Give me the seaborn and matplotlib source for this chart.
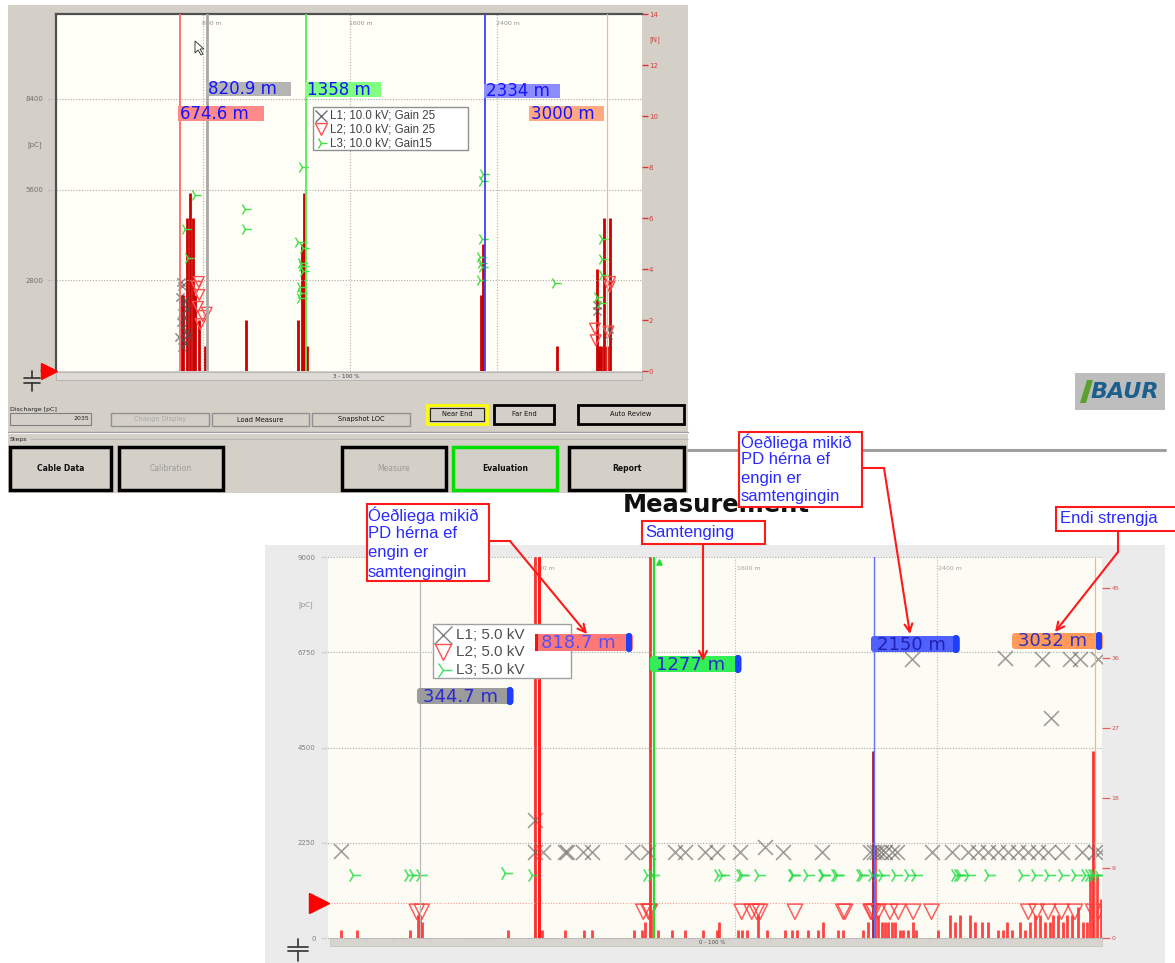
import matplotlib
matplotlib.use("Agg")
import matplotlib.pyplot as plt
import matplotlib.transforms as mtransforms
from matplotlib.patches import Rectangle, FancyBboxPatch, FancyArrowPatch, Polygon
from matplotlib.lines import Line2D
import seaborn as sns

# ---------------- DATA ----------------
# top screenshot (10 kV measurement)
top_bar_m = [684, 693, 715, 729, 744, 758, 777, 811, 1034, 1319, 1340, 1351, 1368,
             2311, 2325, 2725, 2946, 2955, 2966, 2982, 2997, 3015]
top_bar_n = [3, 3, 6, 7, 6, 3, 2, 1, 2, 2, 5, 7, 1, 3, 5, 1, 4, 1, 1, 6, 1, 6]

top_l1_m = [680, 688, 676, 692, 702, 684, 697, 712, 679, 693, 708, 672, 689, 704, 718, 686,
            2942, 2946, 3006, 3012]
top_l1_pc = [2750, 2620, 2300, 2080, 2200, 1800, 1650, 1900, 1500, 1350, 1200, 1050, 1000, 850,
             1100, 750, 2030, 1850, 1110, 1300]
top_l2_m = [777, 766, 780, 772, 820, 798, 786, 3015, 3012, 2933, 2937, 3006]
top_l2_pc = [2750, 2600, 2350, 1980, 1800, 1700, 1450, 2750, 2600, 1310, 950, 1210]
top_l3_m = [756, 702, 718, 1029, 1029, 1338, 1317, 1344, 1335, 1340, 1346, 1330, 1335, 1328,
            2325, 2320, 2320, 2307, 2315, 2320, 2307, 2716, 2970, 2970, 2970, 2942, 2958]
top_l3_pc = [5450, 4400, 3480, 5015, 4370, 6310, 3970, 3790, 3350, 3250, 3100, 2580, 2400, 2250,
             6080, 5880, 4090, 3520, 3320, 3200, 2800, 2720, 4080, 3470, 2950, 2290, 2100]
top_cursor_m = [674.6, 820.9, 1358, 2334, 3000]
top_cursor_lbl = ["674.6 m", "820.9 m", "1358 m", "2334 m", "3000 m"]
top_legend = ["L1; 10.0 kV; Gain 25", "L2; 10.0 kV; Gain 25", "L3; 10.0 kV; Gain15"]
top_yticks = [0, 2800, 5600, 8400]
top_rticks = [0, 2, 4, 6, 8, 10, 12, 14]
top_grid_m = [800, 1600, 2400]

# bottom screenshot (5 kV measurement)
bot_bar_m = [32, 94, 306, 337, 346, 353, 695, 803, 830, 922, 998, 1029, 1198, 1227, 1241, 1260,
             1274, 1291, 1349, 1400, 1472, 1526, 1536, 1612, 1625, 1645, 1691, 1724, 1797, 1824,
             1844, 1890, 1930, 1950, 2009, 2029, 2109, 2128, 2147, 2155, 2169, 2182, 2195, 2208,
             2221, 2235, 2254, 2268, 2288, 2307, 2320, 2407, 2453, 2473, 2493, 2533, 2553, 2579,
             2606, 2645, 2665, 2679, 2699, 2732, 2751, 2771, 2791, 2811, 2831, 2851, 2864, 2884,
             2904, 2917, 2937, 2963, 2983, 2997, 3010, 3023, 3037, 3056]
bot_bar_n = [1, 1, 1, 3, 3, 2, 1, 55, 1, 1, 1, 1, 1, 1, 2, 55,
             3, 1, 1, 1, 1, 1, 2, 1, 1, 1, 3, 1, 1, 1,
             1, 1, 1, 2, 1, 1, 1, 2, 24, 12, 3, 2, 2, 2,
             2, 2, 1, 1, 1, 2, 1, 1, 3, 2, 3, 3, 2, 2,
             2, 1, 1, 2, 1, 2, 1, 2, 3, 3, 2, 2, 3, 3,
             2, 3, 3, 4, 2, 2, 8, 24, 8, 5]

bot_l1_m = [32, 803, 835, 922, 930, 994, 1030, 1189, 1252, 1360, 1400, 1479, 1527, 1618, 1718,
            1789, 1944, 2135, 2150, 2163, 2180, 2195, 2223, 2243, 2382, 2461, 2525, 2565, 2604,
            2644, 2684, 2724, 2763, 2803, 2843, 2899, 2978, 3030, 3050,
            803, 808, 2301, 2672, 2819, 2857, 2930, 2970, 3042]
bot_l1_pc = [2050, 2030, 2030, 2030, 2030, 2030, 2030, 2030, 2030, 2030, 2030, 2030, 2030, 2040, 2160,
             2030, 2030, 2030, 2030, 2030, 2030, 2030, 2030, 2030, 2030, 2030, 2030, 2030, 2030,
             2030, 2030, 2030, 2030, 2030, 2030, 2030, 2030, 2030, 2030,
             2795, 6600, 6600, 6620, 6600, 5190, 6600, 6600, 6600]
bot_l2_m = [333, 353, 1234, 1255, 1260, 1625, 1665, 1685, 1698, 1837, 2029, 2036, 2138, 2142, 2150,
            2168, 2215, 2248, 2307, 2380, 2765, 2798, 2844, 2897, 2950, 3023, 3043]
bot_l2_pc = [620] * 27
bot_l3_m = [81, 300, 319, 346, 684, 790, 1247, 1267, 1532, 1545, 1618, 1625, 1691, 1824, 1830,
            1883, 1943, 1950, 1996, 2003, 2095, 2102, 2142, 2162, 2182, 2235, 2288, 2314, 2475,
            2486, 2495, 2526, 2606, 2738, 2791, 2844, 2897, 2950, 2990, 3005, 3017, 3025, 3043]
bot_l3_pc = [1490, 1490, 1490, 1490, 1530, 1490, 1490, 1490, 1490, 1490, 1490, 1490, 1490, 1490, 1490,
             1490, 1490, 1490, 1490, 1490, 1490, 1490, 1490, 1490, 1490, 1490, 1490, 1490, 1490,
             1490, 1490, 1490, 1490, 1490, 1490, 1490, 1490, 1490, 1490, 1490, 1490, 1490, 1490]
bot_cursor_m = [344.7, 818.7, 1277, 2150, 3032]
bot_cursor_lbl = ["344.7 m", "818.7 m", "1277 m", "2150 m", "3032 m"]
bot_legend = ["L1; 5.0 kV", "L2; 5.0 kV", "L3; 5.0 kV"]
bot_yticks = [0, 2250, 4500, 6750, 9000]
bot_rticks = [0, 9, 18, 27, 36, 45]
bot_grid_m = [800, 1600, 2400]
bot_trigger_pc = 825

notes = [["Óeðliega mikið", "PD hérna ef", "engin er", "samtengingin"],
         ["Samtenging"],
         ["Óeðliega mikið", "PD hérna ef", "engin er", "samtengingin"],
         ["Endi strengja"]]

# ---------------- FIGURE ----------------
sns.set_style("white")
plt.rcParams['font.family'] = ['DejaVu Sans']

W, H = 1175, 963
fig = plt.figure(figsize=(W / 100, H / 100), dpi=100)
fig.patch.set_facecolor('white')
PX = mtransforms.Affine2D().scale(1 / W, -1 / H).translate(0, 1) + fig.transFigure


def rect(x0, y0, x1, y1, fc='none', ec='none', lw=0, z=1, **kw):
    fig.add_artist(Rectangle((x0, y0), x1 - x0, y1 - y0, transform=PX, facecolor=fc,
                             edgecolor=ec, linewidth=lw, zorder=z, **kw))


def rrect(x0, y0, x1, y1, fc, r=3, z=6, ec='none', lw=0):
    fig.add_artist(FancyBboxPatch((x0, y0), x1 - x0, y1 - y0,
                                  boxstyle=f"round,pad=0,rounding_size={r}",
                                  transform=PX, facecolor=fc, edgecolor=ec, linewidth=lw, zorder=z))


def line(xs, ys, color, lw, z=2, **kw):
    fig.add_artist(Line2D(xs, ys, transform=PX, color=color, linewidth=lw, zorder=z, **kw))


def txt(x, y, s, z=7, **kw):
    kw.setdefault('va', 'center')
    fig.text(x, y, s, transform=PX, zorder=z, **kw)


def mark(x, y, marker, ms, color, z=7, **kw):
    fig.add_artist(Line2D([x], [y], transform=PX, marker=marker, markersize=ms, color=color,
                          linestyle='none', zorder=z, **kw))


# backgrounds
rect(8, 5, 688, 493, fc='#d4d0c8', z=-5)
rect(265, 545, 1165, 963, fc='#ebebeb', z=-5)
line([688, 1165], [450, 450], '#a0a0a0', 2.2, z=-4)

# ================= TOP CHART =================
ax_t = fig.add_axes([56 / W, 1 - 371 / H, 586 / W, 357 / H])
ax_t.set_facecolor('#fffff7')
ax_t.set_xlim(0, 3189)
ax_t.set_ylim(0, 14)
ax_t.set_xticks([])
for s in ['right', 'bottom']:
    ax_t.spines[s].set_visible(False)
for s in ['top', 'left']:
    ax_t.spines[s].set_color('#505050')
    ax_t.spines[s].set_linewidth(1.6)
for gm in top_grid_m:
    ax_t.axvline(gm, color='#b0b0b0', ls=(0, (1, 1.5)), lw=0.8, zorder=0.5)
ax_t.vlines(top_bar_m, 0, top_bar_n, colors='#cc0000', linewidth=2.0, zorder=2)

ax_tl = ax_t.twinx()
ax_t.yaxis.tick_right()
ax_t.set_yticks(top_rticks)
ax_t.set_yticklabels([str(v) for v in top_rticks])
ax_t.tick_params(axis='y', colors='#e03030', labelsize=5, length=4, width=1, pad=1,
                 direction='out', labelcolor='#d04040', left=False, labelleft=False,
                 right=True, labelright=True)
ax_tl.set_ylim(0, 11025)
ax_tl.yaxis.tick_left()
ax_tl.set_yticks(top_yticks)
ax_tl.set_yticklabels([str(v) for v in top_yticks])
ax_tl.tick_params(axis='y', colors='#707070', labelsize=5, length=0, pad=9,
                  right=False, labelright=False, left=True, labelleft=True)
for s in ax_tl.spines.values():
    s.set_visible(False)
ax_tl.hlines(top_yticks[1:], -0.014, 1, transform=ax_tl.get_yaxis_transform(), colors='#a8a8a8',
             linestyles=(0, (1, 1.5)), lw=0.8, clip_on=False, zorder=0.5)
sns.scatterplot(x=top_l1_m, y=top_l1_pc, marker='x', s=35, color='#505050', linewidth=1.0,
                alpha=0.7, ax=ax_tl, zorder=3, legend=False)
ax_tl.scatter(top_l2_m, top_l2_pc, marker='v', s=60, facecolors='none', edgecolors='#ff5050',
              linewidths=1.0, zorder=3)
sns.scatterplot(x=top_l3_m, y=top_l3_pc, marker='4', s=80, color='#40e040', linewidth=1.0,
                ax=ax_tl, zorder=3, legend=False)
top_cursor_col = ['#ff6a6a', '#a8a8a8', '#50f050', '#4040ff', '#ffb090']
top_cursor_lw = [1.3, 2.0, 1.3, 1.3, 0.9]
for cm, cc, lw in zip(top_cursor_m, top_cursor_col, top_cursor_lw):
    ax_tl.axvline(cm, color=cc, lw=lw, zorder=4)
blend_t = mtransforms.blended_transform_factory(ax_tl.transData, ax_tl.transAxes)
for gm in top_grid_m:
    ax_tl.text(gm - 5, 0.972, f"{gm} m", transform=blend_t, fontsize=4.5, color='#909090',
               ha='left', va='center')
ax_tl.set_xlim(0, 3189)
ax_tl.set_xticks([])

# top cursor labels
top_boxes = [(178, 106, 264, 121, '#ff8a8a'), (206, 82, 291, 96, '#b4b4b4'),
             (305, 82, 381, 97, '#80ff80'), (484, 84, 560, 98, '#8c8cff'),
             (529, 106, 604, 121, '#ffa882')]
for (x0, y0, x1, y1, fc), lbl in zip(top_boxes, top_cursor_lbl):
    rect(x0, y0, x1, y1, fc=fc, z=6)
    txt(x0 + 2, (y0 + y1) / 2 + 0.5, lbl, fontsize=12, color='#1414ff')

# top legend
rect(313, 107, 468, 150, fc='white', ec='#909090', lw=1, z=5)
top_leg_mk = [('x', '#707070'), ('v', '#ff5050'), ('4', '#40e040')]
for i, (lbl, (mk, mc)) in enumerate(zip(top_legend, top_leg_mk)):
    yy = 116 + i * 13.5
    if mk == 'v':
        mark(321, yy, mk, 8, mc, markerfacecolor='none', markeredgewidth=1)
    else:
        mark(321, yy, mk, 9, mc, markeredgewidth=1)
    txt(330, yy, lbl, fontsize=8.3, color='#404040', family='Liberation Sans')

# axis decorations
txt(35, 145, "[pC]", fontsize=5, color='#707070', ha='center')
txt(655, 40, "[N]", fontsize=5, color='#d04040', ha='center')
mark(49, 371, '>', 11, '#ff0000', z=7)
rect(56, 372, 642, 380, fc='#deDBD6', ec='#a8a8a8', lw=0.5, z=-4)
txt(346, 376, "3 - 100 %", fontsize=4, color='#404040', ha='center')
line([24, 40], [378, 378], '#303030', 1.2, z=3)
line([24, 40], [383, 383], '#303030', 1.2, z=3)
line([32, 32], [371, 378], '#303030', 1.2, z=3)
line([32, 32], [383, 391], '#303030', 1.2, z=3)
fig.add_artist(Polygon([(195, 41), (195, 53), (198, 50), (201, 55), (203, 54), (200, 49), (204, 49)],
                       closed=True, transform=PX, facecolor='white', edgecolor='#404040',
                       linewidth=0.7, zorder=7))

# top buttons
txt(10, 409, "Discharge [pC]", fontsize=4.5, color='#202020', ha='left')
rect(10, 413, 91, 425, fc='#d4d0c8', ec='#808080', lw=0.8, z=1)
txt(89, 419, "2035", fontsize=4.5, color='#202020', ha='right')


def button(x0, y0, x1, y1, label, ec='#000000', lw=2.0, tc='#101010', bold=False, fs=4.8):
    rect(x0, y0, x1, y1, fc='#d4d0c8', ec=ec, lw=lw, z=1)
    txt((x0 + x1) / 2, (y0 + y1) / 2, label, fontsize=fs, color=tc, ha='center',
        fontweight='bold' if bold else 'normal')


button(111, 413, 209, 426, "Change Display", ec='#909090', lw=1, tc='#a8a8a8')
button(212, 413, 309, 426, "Load Measure", ec='#909090', lw=1)
button(312, 413, 410, 426, "Snapshot LOC", ec='#909090', lw=1)
rect(427, 405, 487, 424, fc='#d4d0c8', ec='#ffff00', lw=2, z=1)
button(430, 408, 484, 421, "Near End", ec='#202020', lw=0.8)
button(494, 405, 554, 424, "Far End")
button(578, 405, 684, 424, "Auto Review")
line([8, 688], [432, 432], '#9a9a9a', 1.0, z=0)
line([8, 688], [433.5, 433.5], '#f4f4f4', 0.8, z=0)
txt(10, 439, "Steps", fontsize=4.5, color='#202020', ha='left')
line([30, 688], [439, 439], '#b0b0b0', 0.5, z=0)
button(10, 447, 111, 490, "Cable Data", lw=2.5, bold=True, fs=5.5)
button(119, 447, 223, 490, "Calibration", lw=2.5, tc='#9a9a9a', fs=5.5)
button(342, 447, 446, 490, "Measure", lw=2.5, tc='#9a9a9a', fs=5.5)
button(453, 447, 557, 490, "Evaluation", ec='#00e000', lw=2.5, bold=True, fs=5.5)
button(569, 447, 684, 490, "Report", lw=2.5, bold=True, fs=5.5)

# ================= BOTTOM CHART =================
ax_b = fig.add_axes([328 / W, 1 - 938 / H, 774 / W, 381 / H])
ax_b.set_facecolor('#fdfcf4')
ax_b.set_xlim(-20, 3058)
ax_b.set_ylim(0, 49)
ax_b.set_xticks([])
for s in ax_b.spines.values():
    s.set_visible(False)
for gm in bot_grid_m:
    ax_b.axvline(gm, color='#b8b8b8', ls=(0, (1, 1.5)), lw=0.8, zorder=0.5)
bar_cols = ['#ff3030' if n < 20 else '#ff1a1a' for n in bot_bar_n]
bar_cols[bot_bar_m.index(2147)] = '#a00020'
ax_b.vlines(bot_bar_m, 0, bot_bar_n, colors=bar_cols, linewidth=2.0, alpha=0.9, zorder=2)

ax_bl = ax_b.twinx()
ax_b.yaxis.tick_right()
ax_b.set_yticks(bot_rticks)
ax_b.set_yticklabels([str(v) for v in bot_rticks])
ax_b.tick_params(axis='y', colors='#e06060', labelsize=4.5, length=6, width=0.9, pad=1,
                 direction='out', labelcolor='#d05050', left=False, labelleft=False,
                 right=True, labelright=True)
ax_bl.set_ylim(0, 9000)
ax_bl.set_xlim(-20, 3058)
ax_bl.set_xticks([])
ax_bl.yaxis.tick_left()
ax_bl.set_yticks(bot_yticks)
ax_bl.set_yticklabels([str(v) for v in bot_yticks])
ax_bl.tick_params(axis='y', colors='#808080', labelsize=5, length=0, pad=9,
                  right=False, labelright=False, left=True, labelleft=True)
for s in ax_bl.spines.values():
    s.set_visible(False)
ax_bl.hlines(bot_yticks, -0.008, 1, transform=ax_bl.get_yaxis_transform(), colors='#a8a8a8',
             linestyles=(0, (1, 1.5)), lw=0.8, clip_on=False, zorder=0.5)
ax_bl.axhline(bot_trigger_pc, color='#ff9a9a', ls=(0, (1, 1.5)), lw=0.8, zorder=0.5)
sns.scatterplot(x=bot_l1_m, y=bot_l1_pc, marker='x', s=115, color='#606060', linewidth=1.2,
                alpha=0.6, ax=ax_bl, zorder=3, legend=False)
sns.scatterplot(x=bot_l3_m, y=bot_l3_pc, marker='4', s=120, color='#22dd44', linewidth=1.2,
                alpha=0.8, ax=ax_bl, zorder=3, legend=False)
ax_bl.scatter(bot_l2_m, bot_l2_pc, marker='v', s=120, facecolors='none', edgecolors='#ff3838',
              linewidths=1.1, alpha=0.8, zorder=3)
bot_cursor_col = ['#b8b8b8', '#ff2020', '#20dd30', '#6070ff', '#ffb090']
bot_cursor_lw = [0.9, 2.2, 1.6, 1.0, 0.9]
for cm, cc, lw in zip(bot_cursor_m, bot_cursor_col, bot_cursor_lw):
    ax_bl.axvline(cm, color=cc, lw=lw, zorder=4)
blend_b = mtransforms.blended_transform_factory(ax_bl.transData, ax_bl.transAxes)
for gm in bot_grid_m:
    ax_bl.text(gm + 5, 0.969, f"{gm} m", transform=blend_b, fontsize=4.5, color='#a0a0a0',
               ha='left', va='center')
ax_bl.scatter([bot_cursor_m[2] + 20], [0.988], marker='^', s=14, color='#20dd30', zorder=5,
              transform=blend_b)

# bottom cursor labels
bot_boxes = [(417, 688, 514, 704, '#9c9c9c', '#2a2ad0'), (535, 634, 633, 651, '#ff7878', '#5050ff'),
             (650, 656, 742, 672, '#33ee55', '#2a2ad0'), (871, 636, 960, 652, '#5060ff', '#2020b0'),
             (1012, 633, 1103, 649, '#ff9a5a', '#3030c0')]
for (x0, y0, x1, y1, fc, tc), lbl in zip(bot_boxes, bot_cursor_lbl):
    rrect(x0, y0, x1, y1, fc, r=3, z=6)
    rrect(x1 - 7, y0 - 1, x1 - 1, y1 + 1, '#1f3fff', r=2.5, z=6.5)
    txt(x0 + 6, (y0 + y1) / 2 + 0.5, lbl, fontsize=13, color=tc)
rect(535, 634, 538, 651, fc='#ff1010', z=6.2)

# bottom legend
rect(433, 624, 571, 678, fc='white', ec='#a0a0a0', lw=1, z=5)
bot_leg_mk = [('x', '#808080'), ('v', '#ff5050'), ('4', '#40e060')]
for i, (lbl, (mk, mc)) in enumerate(zip(bot_legend, bot_leg_mk)):
    yy = 635 + i * 17.5
    if mk == 'v':
        mark(443, yy, mk, 12, mc, markerfacecolor='none', markeredgewidth=1)
    else:
        mark(443, yy, mk, 13, mc, markeredgewidth=1)
    txt(456, yy, lbl, fontsize=11, color='#505050', family='Liberation Sans')

txt(306, 605, "[pC]", fontsize=5, color='#909090', ha='center')
mark(319, 903, '>', 15, '#ff0000', z=7)
rect(330, 938, 1102, 946, fc='#d8d5d0', ec='#c0c0c0', lw=0.5, z=-4)
txt(712, 942, "0 - 100 %", fontsize=4, color='#505050', ha='center')
line([288, 308], [947, 947], '#404040', 1.3, z=3)
line([288, 308], [951, 951], '#404040', 1.3, z=3)
line([298, 298], [939, 947], '#404040', 1.3, z=3)
line([298, 298], [951, 961], '#404040', 1.3, z=3)

# ================= TITLE, LOGO, NOTES =================
txt(716, 512, "Measurement", fontsize=17.5, fontweight='bold', color='#101010', ha='center',
    va='baseline', z=8)
rect(1075, 373, 1165, 410, fc='#bdbdbd', z=1)
fig.add_artist(Polygon([(1080, 403), (1087, 380), (1093, 380), (1086, 403)], closed=True,
                       transform=PX, facecolor='#5aa02c', edgecolor='none', zorder=2))
txt(1091, 392, "BAUR", fontsize=16, fontweight='bold', fontstyle='italic', color='#1b5f8c',
    ha='left', z=3)

note_boxes = [(367, 504, 489, 581, 368, [515, 534, 553, 572]),
              (642, 521, 765, 544, 645, [533]),
              (739, 432, 862, 507, 741, [442, 460, 479, 497]),
              (1056, 507, 1185, 531, 1060, [519])]
for (x0, y0, x1, y1, tx, ys), lines_ in zip(note_boxes, notes):
    rect(x0, y0, x1, y1, fc='white', ec='#ff1a1a', lw=1.5, z=10)
    for yy, s in zip(ys, lines_):
        txt(tx, yy, s, fontsize=12, color='#2a2aff', ha='left', family='Liberation Sans', z=11)

arrows = [[(489, 541), (510, 541), (587, 634)],
          [(703, 544), (703, 661)],
          [(862, 468), (884, 468), (910, 634)],
          [(1118, 531), (1118, 552), (1055, 632)]]
for pts in arrows:
    for (a, b) in zip(pts[:-2], pts[1:-1]):
        line([a[0], b[0]], [a[1], b[1]], '#ff1a1a', 1.5, z=12)
    fig.add_artist(FancyArrowPatch(pts[-2], pts[-1], transform=PX, arrowstyle='->',
                                   mutation_scale=14, color='#ff1a1a', linewidth=1.5,
                                   shrinkA=0, shrinkB=0, zorder=12))

fig.savefig("out.png", dpi=100, facecolor='white')
